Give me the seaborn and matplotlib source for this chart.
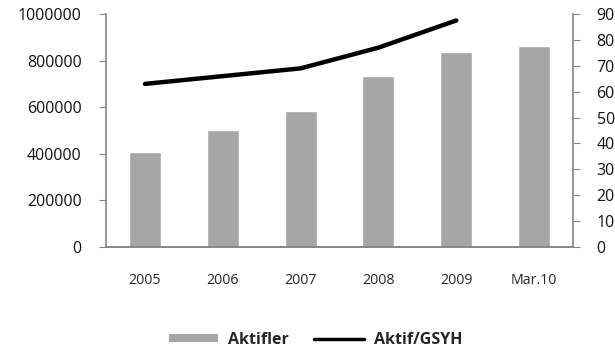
import matplotlib
matplotlib.use("Agg")
import matplotlib.pyplot as plt
from matplotlib.patches import Patch
from matplotlib.lines import Line2D
import seaborn as sns
import pandas as pd
import numpy as np

# Data
categories = ["2005", "2006", "2007", "2008", "2009", "Mar.10"]
aktifler = [408000, 502000, 584000, 734000, 837000, 862000]
line_categories = ["2005", "2006", "2007", "2008", "2009"]
aktif_gsyh = [63, 66, 69, 77, 87.5]

sns.set_style("white")
plt.rcParams["font.family"] = ["Open Sans", "DejaVu Sans"]

bar_df = pd.DataFrame({"cat": categories, "val": aktifler})
line_df = pd.DataFrame({"pos": np.arange(len(line_categories)), "val": aktif_gsyh})

fig = plt.figure(figsize=(6.15, 3.53), dpi=100)
ax = fig.add_axes([106 / 615, 1 - 247 / 353, (573 - 106) / 615, (247 - 14) / 353])

sns.barplot(data=bar_df, x="cat", y="val", color="#A6A6A6", width=0.41,
            saturation=1, ax=ax)
ax.set_xlim(-0.5, len(categories) - 0.5)
ax.set_ylim(0, 1000000)
ax.set_yticks(np.arange(0, 1000001, 200000))
ax.set_yticklabels([str(v) for v in range(0, 1000001, 200000)], fontsize=11.5)
ax.set_xlabel("")
ax.set_ylabel("")

ax2 = ax.twinx()
sns.lineplot(data=line_df, x="pos", y="val", color="black", linewidth=3.2,
             ax=ax2, solid_capstyle="round", solid_joinstyle="round")
ax2.set_ylim(0, 90)
ax2.set_yticks(np.arange(0, 91, 10))
ax2.set_yticklabels([str(v) for v in range(0, 91, 10)], fontsize=11.5)
ax2.set_ylabel("")
ax2.set_xlabel("")
ax2.set_xlim(-0.5, len(categories) - 0.5)

# x ticks at category boundaries, labels centred
ax.set_xticks(np.arange(-0.5, len(categories), 1.0))
ax.set_xticklabels([])
ax.set_xticks(np.arange(len(categories)), minor=True)
ax.set_xticklabels(categories, minor=True, fontsize=10.2)
ax.tick_params(axis="x", which="minor", length=0, pad=19)
ax.tick_params(axis="x", which="major", length=5, color="#868686", direction="out")

axis_color = "#868686"
for a in (ax, ax2):
    a.spines["top"].set_visible(False)
    for s in ("left", "right", "bottom"):
        a.spines[s].set_color(axis_color)
        a.spines[s].set_linewidth(1.2)
ax.spines["right"].set_visible(False)
ax2.spines["left"].set_visible(False)
ax.tick_params(axis="y", left=True, length=5, color=axis_color, direction="out",
               pad=12.5, labelcolor="#111111")
ax2.tick_params(axis="y", right=True, length=5, color=axis_color, direction="out",
                pad=12, labelcolor="#111111")

handles = [
    Patch(facecolor="#A6A6A6", edgecolor="none", label="Aktifler"),
    Line2D([0], [0], color="black", linewidth=2.5, label="Aktif/GSYH"),
]
fig.legend(handles=handles, loc="center", bbox_to_anchor=(0.513, 0.038), ncol=2,
           frameon=False, prop={"weight": "bold", "size": 11.5},
           handlelength=3.1, handleheight=0.4, columnspacing=1.6, handletextpad=0.6)

fig.savefig("out.png", dpi=100)
